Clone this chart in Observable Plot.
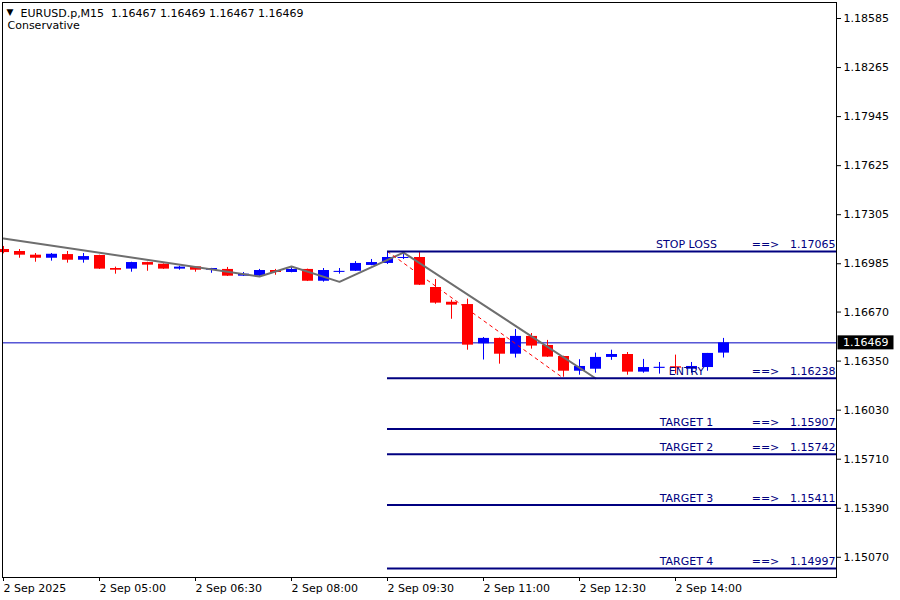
<!DOCTYPE html>
<html><head><meta charset="utf-8">
<script src="https://cdn.jsdelivr.net/npm/d3@7"></script>
<script src="https://cdn.jsdelivr.net/npm/@observablehq/plot@0.6"></script>
<style>html,body{margin:0;padding:0;background:#fff;overflow:hidden}</style>
</head><body><div id="chart"></div>
<script>
// ---- data ----
const symbolName = "EURUSD.p,M15";
const headerOHLC = [1.16467, 1.16469, 1.16467, 1.16469];
const strategyName = "Conservative";

// 15-minute bars, index 0 = 2 Sep 03:30
const opens  = [1.17078,1.17065,1.17041,1.17021,1.17045,1.17008,1.17039,1.16954,1.16950,1.16993,1.16982,1.16950,1.16965,1.16943,1.16948,1.16904,1.16904,1.16941,1.16928,1.16948,1.16871,1.16934,1.16936,1.16974,1.16987,1.17025,1.17026,1.16830,1.16734,1.16719,1.16463,1.16498,1.16395,1.16511,1.16452,1.16380,1.16284,1.16297,1.16374,1.16393,1.16278,1.16306,1.16313,1.16297,1.16308,1.16402];
const highs  = [1.17098,1.17078,1.17052,1.17052,1.17065,1.17052,1.17041,1.16963,1.16995,1.16995,1.16984,1.16969,1.16967,1.16955,1.16961,1.16928,1.16948,1.16948,1.16967,1.16950,1.16954,1.16954,1.16999,1.17013,1.17060,1.17045,1.17058,1.16882,1.16747,1.16754,1.16504,1.16500,1.16556,1.16530,1.16485,1.16382,1.16359,1.16402,1.16421,1.16406,1.16361,1.16341,1.16389,1.16341,1.16400,1.16498];
const lows   = [1.17050,1.17021,1.16995,1.17002,1.16989,1.16989,1.16948,1.16917,1.16930,1.16936,1.16948,1.16943,1.16930,1.16923,1.16902,1.16902,1.16902,1.16910,1.16926,1.16869,1.16865,1.16917,1.16935,1.16972,1.16980,1.17013,1.16843,1.16721,1.16623,1.16421,1.16357,1.16330,1.16370,1.16428,1.16374,1.16245,1.16258,1.16271,1.16355,1.16258,1.16271,1.16265,1.16265,1.16271,1.16284,1.16370];
const closes = [1.17058,1.17041,1.17021,1.17047,1.17008,1.17032,1.16950,1.16943,1.16993,1.16976,1.16950,1.16963,1.16943,1.16954,1.16904,1.16917,1.16941,1.16928,1.16948,1.16871,1.16941,1.16935,1.16987,1.16993,1.17026,1.17026,1.16845,1.16728,1.16715,1.16454,1.16498,1.16395,1.16511,1.16448,1.16376,1.16284,1.16315,1.16374,1.16393,1.16278,1.16308,1.16309,1.16304,1.16315,1.16400,1.16469];

const currentPrice = 1.16469;

// zigzag (grey) line
const zigBars   = [0, 16, 18, 21, 25, 37];
const zigPrices = [1.17150, 1.16902, 1.16967, 1.16867, 1.17058, 1.16238];

// red dashed line: stop loss -> entry
const dashBars   = [24, 35];
const dashPrices = [1.17065, 1.16238];

// trade levels
const levelStartBar = 24;
const levelNames  = ["STOP LOSS", "ENTRY", "TARGET 1", "TARGET 2", "TARGET 3", "TARGET 4"];
const levelValues = [1.17065, 1.16238, 1.15907, 1.15742, 1.15411, 1.14997];

// axes
const xTickBars   = [0, 6, 12, 18, 24, 30, 36, 42];
const xTickLabels = ["2 Sep 2025", "2 Sep 05:00", "2 Sep 06:30", "2 Sep 08:00", "2 Sep 09:30", "2 Sep 11:00", "2 Sep 12:30", "2 Sep 14:00"];
const yTicks = [1.18585, 1.18265, 1.17945, 1.17625, 1.17305, 1.16985, 1.16670, 1.16350, 1.16030, 1.15710, 1.15390, 1.15070];

// ---- build ----
const BLUE = "#0000ff", RED = "#ff0000", NAVY = "#000080";
const candles = opens.map((o, i) => ({i, o, h: highs[i], l: lows[i], c: closes[i], up: closes[i] >= o}));
const upC = candles.filter(d => d.up), dnC = candles.filter(d => !d.up);
const dojis = candles.filter(d => Math.abs(d.c - d.o) < 0.00003);
const zig = zigBars.map((b, k) => ({b, p: zigPrices[k]}));
const dash = dashBars.map((b, k) => ({b, p: dashPrices[k]}));
const levels = levelNames.map((n, k) => ({n, v: levelValues[k]}));
const xMin = -0.0625, xMax = 52.0625;
const fmt = v => v.toFixed(5);

const priceBox = (index, scales, values, dim) => {
  const y = scales.y(currentPrice);
  const x0 = dim.width - dim.marginRight;
  const g = d3.create("svg:g");
  g.append("rect").attr("x", x0 + 1.5).attr("y", y - 7).attr("width", 56).attr("height", 14).attr("fill", "#000");
  g.append("text").attr("x", x0 + 7).attr("y", y).attr("dy", "0.36em").attr("fill", "#fff")
    .attr("text-anchor", "start").attr("font-size", 11).text(fmt(currentPrice));
  return g.node();
};

const chart = Plot.plot({
  width: 900, height: 600,
  marginLeft: 2, marginRight: 64, marginTop: 2, marginBottom: 23,
  style: {fontFamily: "'DejaVu Sans', sans-serif", fontSize: "11px", background: "#fff", color: "#000", overflow: "visible"},
  x: {domain: [xMin, xMax]},
  y: {domain: [1.1493827, 1.186894]},
  marks: [
    Plot.ruleY([currentPrice], {stroke: "#0000c0", strokeWidth: 1}),
    // wicks
    Plot.ruleX(upC, {x: "i", y1: "l", y2: "h", stroke: BLUE, strokeWidth: 1}),
    Plot.ruleX(dnC, {x: "i", y1: "l", y2: "h", stroke: RED, strokeWidth: 1}),
    // bodies
    Plot.ruleX(upC, {x: "i", y1: "o", y2: "c", stroke: BLUE, strokeWidth: 11, strokeLinecap: "butt"}),
    Plot.ruleX(dnC, {x: "i", y1: "o", y2: "c", stroke: RED, strokeWidth: 11, strokeLinecap: "butt"}),
    Plot.ruleY(dojis, {y: "c", x1: d => d.i - 0.34, x2: d => d.i + 0.34, stroke: d => d.up ? BLUE : RED, strokeWidth: 1}),
    // zigzag & dashed
    Plot.line(zig, {x: "b", y: "p", stroke: "#6e6e6e", strokeWidth: 2}),
    Plot.line(dash, {x: "b", y: "p", stroke: RED, strokeWidth: 1, strokeDasharray: "3,4"}),
    // levels
    Plot.ruleY(levels, {y: "v", x1: levelStartBar, x2: xMax, stroke: NAVY, strokeWidth: 2}),
    Plot.text(levels, {x: xMax, y: "v", text: "n", textAnchor: "middle", dx: -150, dy: -7, fill: NAVY, fontSize: 11}),
    Plot.text(levels, {x: xMax, y: "v", text: () => "==>", textAnchor: "middle", dx: -71, dy: -7, fill: NAVY, fontSize: 11}),
    Plot.text(levels, {x: xMax, y: "v", text: d => fmt(d.v), textAnchor: "end", dx: -1, dy: -7, fill: NAVY, fontSize: 11}),
    // header
    Plot.text(["\u25BC"], {frameAnchor: "top-left", dx: 4, dy: 6.5, fontSize: 9, textAnchor: "start", fill: "#000"}),
    Plot.text([symbolName + "\u00a0 " + headerOHLC.map(fmt).join(" ")], {frameAnchor: "top-left", dx: 18, dy: 7, textAnchor: "start", fontSize: 11, fill: "#000"}),
    Plot.text([strategyName], {frameAnchor: "top-left", dx: 5, dy: 18.5, textAnchor: "start", fontSize: 11, fill: "#000"}),
    // axes
    Plot.axisX({ticks: xTickBars, tickFormat: i => xTickLabels[xTickBars.indexOf(i)], tickSize: 4, tickPadding: 3, textAnchor: "start", label: null, fontSize: 11}),
    Plot.axisY({anchor: "right", ticks: yTicks, tickFormat: fmt, tickSize: 4, tickPadding: 3, label: null, fontSize: 11}),
    Plot.frame({stroke: "#000"}),
    priceBox
  ]
});
document.getElementById("chart").append(chart);
</script>
</body></html>
